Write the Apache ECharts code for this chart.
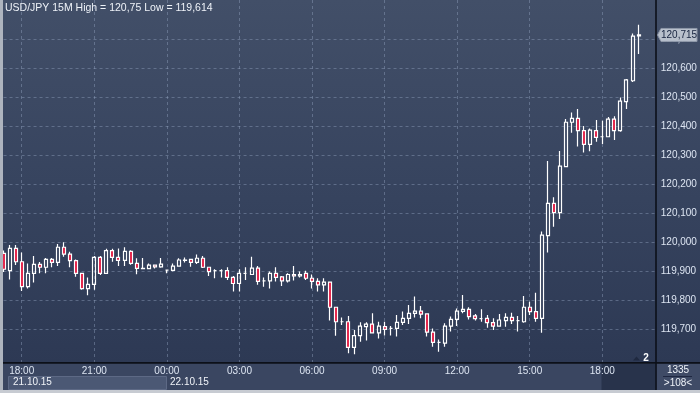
<!DOCTYPE html>
<html><head><meta charset="utf-8">
<script src="https://cdn.jsdelivr.net/npm/echarts@6/dist/echarts.min.js"></script>
<style>html,body{margin:0;padding:0;background:#2e3a55;}#c{width:700px;height:393px;}</style>
</head><body><div id="c"></div>
<script>
// ---------- data ----------
const titleText = 'USD/JPY 15M High = 120,75 Low = 119,614';
const dateLabels = ['21.10.15', '22.10.15'];
const xTickLabels = ['18:00', '21:00', '00:00', '03:00', '06:00', '09:00', '12:00', '15:00'];
const yTicks = [119.7, 119.8, 119.9, 120.0, 120.1, 120.2, 120.3, 120.4, 120.5, 120.6, 120.7];
const lastPrice = 120.715;
const footerTop = '1335';
const footerBottom = '>108<';
const markerCount = '2';
const slotCount = 109;          // 15-minute slots shown, from 21.10 17:15
const yMin = 119.5838, yMax = 120.8355;

const opens = [
 119.962,119.902,119.979,119.933,119.847,119.893,119.924,119.914,119.941,119.931,
 119.983,119.959,119.937,119.893,119.840,119.855,119.948,119.893,119.971,119.948,
 119.938,119.969,119.927,119.910,119.909,119.921,119.915,119.904,119.903,119.918,
 119.938,119.941,119.931,119.945,119.914,119.902,119.902,119.902,119.879,119.858,
 119.893,119.889,119.911,119.867,119.867,119.893,119.881,119.867,119.889,119.884,
 119.893,119.876,119.865,119.853,119.863,119.776,119.726,119.726,119.638,119.678,
 119.709,119.718,119.688,119.709,119.703,119.703,119.724,119.738,119.755,119.763,
 119.753,119.690,119.655,119.652,119.711,119.734,119.762,119.769,119.746,119.737,
 119.738,119.723,119.711,119.730,119.741,119.730,119.726,119.776,119.761,119.738,
 120.023,120.134,120.102,120.261,120.414,120.427,120.385,120.338,120.385,120.364,
 120.364,120.425,120.385,120.485,120.557,120.712];
const closes = [
 119.907,119.979,119.933,119.847,119.893,119.924,119.914,119.941,119.931,119.983,
 119.959,119.937,119.893,119.840,119.855,119.948,119.893,119.971,119.948,119.938,
 119.969,119.927,119.910,119.909,119.921,119.915,119.925,119.904,119.918,119.939,
 119.939,119.931,119.945,119.914,119.899,119.902,119.902,119.879,119.858,119.893,
 119.893,119.911,119.865,119.867,119.893,119.879,119.867,119.889,119.884,119.889,
 119.876,119.865,119.853,119.863,119.776,119.726,119.726,119.638,119.678,119.711,
 119.718,119.688,119.711,119.700,119.703,119.724,119.738,119.755,119.763,119.752,
 119.690,119.655,119.655,119.711,119.734,119.763,119.769,119.744,119.737,119.737,
 119.723,119.711,119.732,119.741,119.730,119.730,119.776,119.761,119.738,120.025,
 120.134,120.102,120.263,120.414,120.427,120.385,120.338,120.387,120.362,120.364,
 120.425,120.385,120.487,120.560,120.711,120.715];
const lows = [
 119.898,119.872,119.922,119.832,119.841,119.861,119.893,119.893,119.914,119.918,
 119.950,119.914,119.881,119.836,119.817,119.836,119.887,119.891,119.933,119.918,
 119.918,119.923,119.890,119.907,119.907,119.910,119.912,119.893,119.900,119.916,
 119.930,119.916,119.925,119.911,119.884,119.876,119.879,119.870,119.830,119.830,
 119.870,119.888,119.854,119.847,119.841,119.865,119.849,119.861,119.868,119.879,
 119.870,119.841,119.830,119.830,119.730,119.678,119.715,119.617,119.614,119.657,
 119.661,119.686,119.668,119.679,119.679,119.675,119.715,119.718,119.741,119.738,
 119.675,119.640,119.623,119.640,119.692,119.711,119.755,119.734,119.730,119.726,
 119.705,119.698,119.709,119.709,119.718,119.692,119.723,119.749,119.726,119.688,
 119.965,120.054,120.080,120.261,120.378,120.330,120.310,120.314,120.347,120.339,
 120.362,120.353,120.381,120.460,120.553,120.649];
const highs = [
 119.972,119.991,119.991,119.965,119.927,119.953,119.932,119.946,119.946,119.994,
 120.000,119.967,119.941,119.895,119.879,119.953,119.953,119.978,119.978,119.979,
 119.983,119.973,119.945,119.946,119.927,119.923,119.946,119.905,119.927,119.945,
 119.948,119.943,119.958,119.953,119.915,119.907,119.907,119.914,119.884,119.907,
 119.914,119.950,119.918,119.879,119.899,119.914,119.884,119.893,119.918,119.899,
 119.902,119.889,119.876,119.876,119.864,119.777,119.741,119.746,119.698,119.724,
 119.724,119.755,119.726,119.726,119.711,119.749,119.761,119.784,119.813,119.780,
 119.755,119.703,119.665,119.721,119.744,119.772,119.818,119.776,119.753,119.769,
 119.749,119.738,119.753,119.755,119.757,119.746,119.815,119.795,119.826,120.037,
 120.280,120.155,120.315,120.425,120.448,120.460,120.401,120.392,120.422,120.419,
 120.432,120.435,120.499,120.563,120.720,120.750];

// ---------- categories (15-minute slots) ----------
const categories = [];
for (let i = 0; i < slotCount; i++) {
  const m = 17 * 60 + 15 + i * 15;
  const day = m >= 24 * 60 ? dateLabels[1] : dateLabels[0];
  const mm = m % (24 * 60);
  const hh = String(Math.floor(mm / 60)).padStart(2, '0');
  const mi = String(mm % 60).padStart(2, '0');
  categories.push(day + ' ' + hh + ':' + mi);
}
const tickSet = new Set(xTickLabels);
const tickCats = categories.filter(c => tickSet.has(c.slice(-5)));
const candles = opens.map((o, i) => [o, closes[i], lows[i], highs[i]]);

const FONT = 'Liberation Sans, Arial, sans-serif';
const chart = echarts.init(document.getElementById('c'), null, { renderer: 'canvas' });

const baseGraphics = [
  { id: 'bg', type: 'rect', z: -10, silent: true, shape: { x: 0, y: 0, width: 700, height: 363 },
    style: { fill: new echarts.graphic.LinearGradient(0, 0, 0, 1, [
      { offset: 0, color: '#424f68' }, { offset: 0.5, color: '#37445f' }, { offset: 1, color: '#2d3954' }]) } },
  { id: 'xband', type: 'rect', z: -10, silent: true, shape: { x: 0, y: 363, width: 700, height: 30 }, style: { fill: '#3a4661' } },
  { id: 'datebox', type: 'rect', z: -9, silent: true, shape: { x: 8.5, y: 376.5, width: 158, height: 13 }, style: { fill: '#4b5874', stroke: '#5d6985', lineWidth: 1 } },
  { id: 'd1', type: 'text', z: 20, silent: true, x: 13, y: 382, style: { text: dateLabels[0], fill: '#f0f3f8', font: '10px ' + FONT, verticalAlign: 'middle' } },
  { id: 'd2', type: 'text', z: 20, silent: true, x: 170, y: 382, style: { text: dateLabels[1], fill: '#f0f3f8', font: '10px ' + FONT, verticalAlign: 'middle' } },
  { id: 'shade', type: 'rect', z: 30, silent: true, shape: { x: 601.5, y: 364, width: 54, height: 26 }, style: { fill: 'rgba(36,46,70,0.8)' } },
  { id: 'rbox', type: 'rect', z: 30, silent: true, shape: { x: 657, y: 364, width: 43, height: 26 }, style: { fill: '#3f4b66' } },
  { id: 'f1', type: 'text', z: 31, silent: true, x: 678, y: 370, style: { text: footerTop, fill: '#eef2f8', font: '10px ' + FONT, align: 'center', verticalAlign: 'middle' } },
  { id: 'fl', type: 'rect', z: 31, silent: true, shape: { x: 663, y: 376, width: 29, height: 1 }, style: { fill: '#1e2741' } },
  { id: 'f2', type: 'text', z: 31, silent: true, x: 678, y: 383.5, style: { text: footerBottom, fill: '#eef2f8', font: '10px ' + FONT, align: 'center', verticalAlign: 'middle' } },
  { id: 'hline', type: 'rect', z: 32, silent: true, shape: { x: 0, y: 362, width: 700, height: 1.8 }, style: { fill: '#0c1019' } },
  { id: 'vline', type: 'rect', z: 32, silent: true, shape: { x: 655.2, y: 0, width: 1.6, height: 390 }, style: { fill: '#0c1019' } },
  { id: 'lborder', type: 'rect', z: 40, silent: true, shape: { x: 0, y: 0, width: 3, height: 393 }, style: { fill: '#aeb4be' } },
  { id: 'bborder', type: 'rect', z: 40, silent: true, shape: { x: 0, y: 390, width: 700, height: 3 }, style: { fill: '#c7cbd2' } },
  { id: 'title', type: 'text', z: 40, silent: true, x: 5, y: 8.5, style: { text: titleText, fill: '#eef2f8', font: '10.5px ' + FONT, verticalAlign: 'middle' } },
  { id: 'tri', type: 'polygon', z: 40, silent: true, shape: { points: [[633, 360.5], [640, 360.5], [636.5, 356.5]] }, style: { fill: '#1f2940' } },
  { id: 'cnt', type: 'text', z: 40, silent: true, x: 646, y: 358, style: { text: markerCount, fill: '#ffffff', font: 'bold 10px ' + FONT, align: 'center', verticalAlign: 'middle' } }
];

const option = {
  animation: false,
  grid: { left: 0.532, right: 40.24, top: 0, bottom: 30, containLabel: false },
  xAxis: {
    type: 'category', data: categories, boundaryGap: true, z: 35,
    axisLine: { show: false }, axisTick: { show: false }, splitLine: { show: false },
    axisLabel: {
      interval: (i, v) => tickSet.has(v.slice(-5)),
      formatter: v => v.slice(-5),
      color: '#dde5f2', fontSize: 10, fontFamily: FONT, margin: 3
    }
  },
  yAxis: {
    type: 'value', position: 'right', min: yMin, max: yMax, splitNumber: 12, z: 35,
    axisLine: { show: false }, axisTick: { show: false }, splitLine: { show: false },
    axisLabel: {
      showMinLabel: false, showMaxLabel: false, margin: 1,
      color: '#dde5f2', fontSize: 10, fontFamily: FONT,
      formatter: v => (v < yTicks[0] - 0.05 || v > yTicks[yTicks.length - 1] + 0.05) ? '' : v.toFixed(3).replace('.', ',')
    }
  },
  series: [{
    type: 'candlestick',
    data: candles,
    barWidth: 3.5,
    z: 2,
    itemStyle: {
      color: 'rgba(0,0,0,0)', color0: '#e3123c',
      borderColor: '#ffffff', borderColor0: '#ffffff', borderColorDoji: '#ffffff',
      borderWidth: 1.2
    },
    emphasis: { disabled: true },
    markLine: {
      silent: true, z: 1, animation: false, symbol: ['none', 'none'],
      label: { show: false }, emphasis: { disabled: true },
      lineStyle: { type: [3, 3], color: 'rgba(150,166,196,0.42)', width: 1 },
      data: [
        ...tickCats.map(c => ({ xAxis: c })),
        ...yTicks.map(v => [{ coord: [categories[0], v] }, { coord: [categories[slotCount - 1], v] }])
      ]
    }
  }],
  graphic: baseGraphics
};
chart.setOption(option);

// price tag placed via the axis scale
const ty = chart.convertToPixel({ yAxisIndex: 0 }, lastPrice);
chart.setOption({
  graphic: baseGraphics.concat([
    { id: 'tag', type: 'polygon', z: 50, silent: true,
      shape: { points: [[657.5, ty], [661, ty - 6.5], [697, ty - 6.5], [697, ty + 6.5], [661, ty + 6.5]] },
      style: { fill: '#b8c0cc', stroke: '#8e97a8', lineWidth: 1 } },
    { id: 'tagt', type: 'text', z: 51, silent: true, x: 661, y: ty + 0.5,
      style: { text: lastPrice.toFixed(3).replace('.', ','), fill: '#16233f', font: '10px ' + FONT, verticalAlign: 'middle' } }
  ])
});
</script></body></html>
